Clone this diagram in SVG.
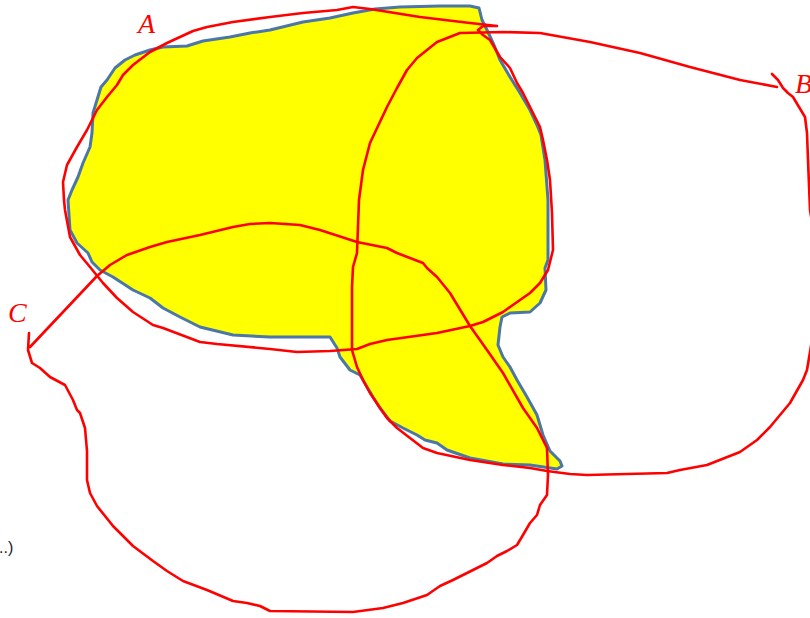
<svg xmlns="http://www.w3.org/2000/svg" width="810" height="618" viewBox="0 0 810 618">
<style>
.red{fill:none;stroke:#ff0000;stroke-width:2.6;stroke-linejoin:round;stroke-linecap:round}
.lbl{font-family:"Liberation Serif",serif;font-style:italic;font-size:28px;fill:#ff0000}
</style>
<rect width="810" height="618" fill="#ffffff"/>
<g id="region">
<path d="M115,68 L125,60 L135,55 L150,50 L163,47 L187,46 L203,41 L230,37 L250,33 L270,30 L303,22 L330,18 L353,13 L375,9 L400,7 L440,6 L470,6 L479,8 L482,20 L487,30 L494,45 L500,60 L510,77 L520,93 L530,110 L537,125 L541,135 L545,160 L548,200 L548,260 L545,268 L546,290 L540,303 L530,312 L510,313 L502,317 L500,327 L498,345 L503,357 L510,367 L517,380 L527,397 L537,415 L543,435 L550,451 L560,461 L562,466 L557,469 L530,465 L503,464 L470,458 L447,450 L437,443 L425,440 L417,435 L403,428 L390,421 L380,408 L373,397 L367,387 L360,375 L350,370 L340,357 L337,348 L330,337 L300,337 L270,337 L233,335 L200,327 L180,317 L163,308 L150,298 L133,290 L113,277 L100,270 L92,262 L88,253 L77,243 L70,230 L68,200 L72,190 L78,177 L83,163 L90,147 L92,133 L93,113 L97,100 L101,87 L107,80 Z" fill="#ffff00" stroke="#4a76a8" stroke-width="3" stroke-linejoin="round"/>
</g>
<g id="curves">
<path id="curveA" class="red" d="M497,26 L470,23 L420,17 L370,9 L353,7 L337,10 L303,13 L270,17 L233,22 L207,27 L193,31 L167,43 L150,52 L133,65 L123,75 L117,85 L107,97 L97,110 L87,130 L77,147 L67,165 L63,182 L64,200 L65,210 L70,237 L80,255 L90,267 L103,283 L117,298 L133,312 L153,325 L163,328 L200,342 L217,344 L270,349 L297,352 L330,351 L357,349 L370,344 L387,340 L437,333 L470,326 L483,322 L503,312 L510,307 L530,293 L540,283 L548,270 L553,250 L552,213 L550,180 L547,160 L543,140 L540,127 L533,113 L523,93 L517,83 L510,68 L500,57 L490,40 L483,35 L478,30 L483,26 L497,26"/>
<path id="curveB" class="red" d="M777,87 L740,80 L690,67 L640,53 L590,42 L540,33 L503,32 L460,33 L437,42 L427,50 L417,58 L407,70 L397,88 L387,107 L370,143 L363,170 L359,200 L357,253 L353,267 L352,287 L352,350 L357,367 L363,380 L370,393 L380,408 L387,418 L397,428 L410,438 L423,448 L437,453 L470,460 L503,465 L530,468 L547,471 L570,474 L587,475 L667,473 L680,470 L707,465 L740,452 L757,440 L770,427 L790,403 L803,380 L807,370 L812,340 L816,290 L815,240 L810,210 L808,160 L807,133 L805,117 L793,97 L788,93 L783,88 L778,80 L772,74"/>
<path id="curveC" class="red" d="M29,333 L28,350 L32,363 L40,368 L50,377 L65,385 L73,400 L77,410 L80,413 L85,428 L87,451 L87,480 L90,493 L97,506 L113,526 L133,546 L153,561 L167,571 L183,581 L207,590 L233,601 L247,603 L260,606 L270,611 L353,612 L383,608 L403,603 L427,595 L440,586 L453,580 L463,575 L477,568 L487,563 L497,556 L507,551 L517,545 L523,535 L530,523 L537,515 L540,505 L547,495 L548,475 L547,448 L537,428 L523,408 L503,373 L487,350 L470,326 L450,293 L437,277 L427,268 L423,263 L397,253 L387,248 L357,242 L320,230 L300,225 L270,223 L250,224 L233,227 L200,235 L167,242 L150,247 L127,255 L110,265 L97,276 L30,347"/>
</g>
<g id="labels">
<text class="lbl" x="138" y="33">A</text>
<text class="lbl" x="795" y="93">B</text>
<text class="lbl" x="8" y="322">C</text>
<text x="-1" y="553" font-family="Liberation Sans, Arial, sans-serif" font-size="16" fill="#222222">..)</text>
</g>
</svg>
